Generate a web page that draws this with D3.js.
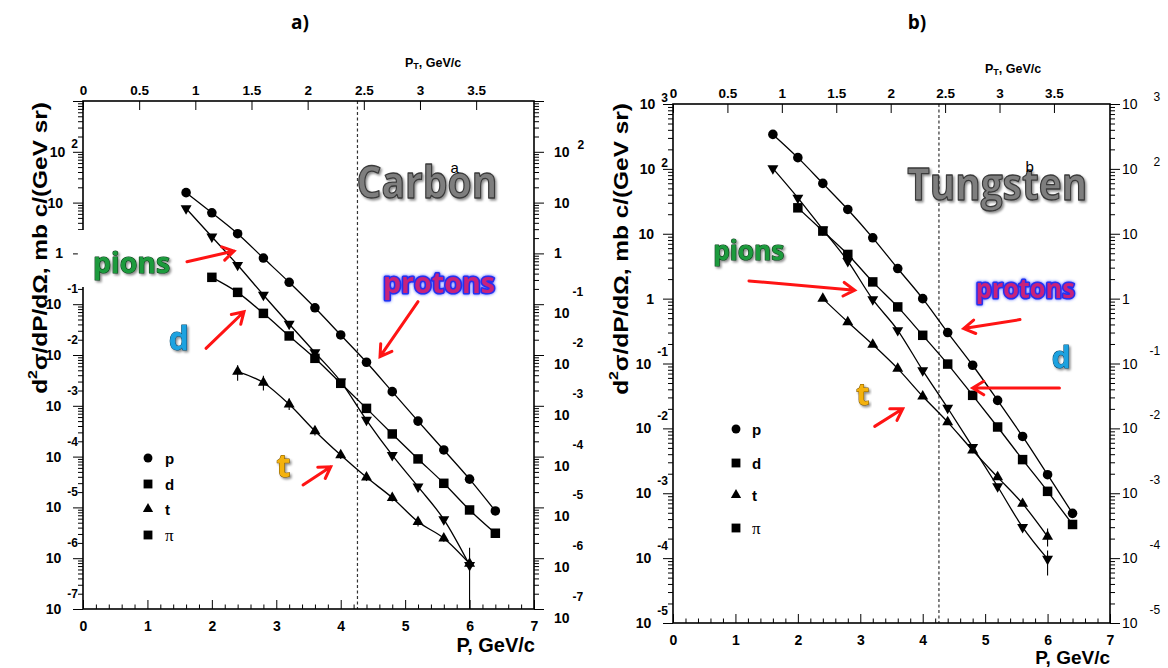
<!DOCTYPE html>
<html>
<head>
<meta charset="utf-8">
<script src="https://cdn.jsdelivr.net/npm/d3@7"></script>
<style>
  html, body { margin: 0; padding: 0; background: #fff; }
  svg { display: block; }
</style>
</head>
<body>
<svg id="chart" width="1168" height="668"></svg>
<script>
// ---------------------------------------------------------------
// Invariant cross sections d2sigma/dP/dOmega [mb c/(GeV sr)]
// measured at 35 degrees, for carbon and tungsten targets.
// ---------------------------------------------------------------
const momentum  = [1.6, 2.0, 2.4, 2.8, 3.2, 3.6, 4.0, 4.4, 4.8, 5.2, 5.6, 6.0, 6.4];
const pProton   = momentum;               // 1.6 ... 6.4 GeV/c
const pDeuteron = momentum.slice(1);      // 2.0 ... 6.4 GeV/c
const pPion     = momentum.slice(0, 12);  // 1.6 ... 6.0 GeV/c
const pTriton   = momentum.slice(2, 12);  // 2.4 ... 6.0 GeV/c

// Carbon target
const carbonProtons   = [15.7, 6.3, 2.44, 0.81, 0.27, 0.085, 0.0248, 0.0072, 0.0019, 5.0e-4, 1.35e-4, 3.6e-5, 8.5e-6];
const carbonDeuterons = [0.338, 0.171, 0.066, 0.0237, 0.0086, 0.00277, 8.9e-4, 2.79e-4, 9.0e-5, 2.98e-5, 8.9e-6, 3.1e-6];
const carbonPions     = [7.7, 2.13, 0.59, 0.152, 0.0407, 0.0112, 0.0030, 5.25e-4, 1.07e-4, 2.56e-5, 5.8e-6, 7.3e-7];
const carbonTritons   = [4.7e-3, 2.85e-3, 1.07e-3, 3.19e-4, 1.07e-4, 3.9e-5, 1.55e-5, 5.2e-6, 2.47e-6, 7.8e-7];
// [P, lower, upper]
const carbonErrors = [
  [2.4, 3.1e-3, 6.3e-3], [2.8, 2.0e-3, 3.9e-3], [3.2, 8.3e-4, 1.4e-3],
  [3.6, 2.6e-4, 3.9e-4], [4.0, 9.0e-5, 1.25e-4], [4.4, 3.3e-5, 4.5e-5],
  [4.8, 1.3e-5, 1.8e-5], [5.2, 4.2e-6, 6.5e-6], [5.6, 2.1e-6, 2.9e-6],
  [6.0, 1.0e-8, 1.6e-6]
];

// Tungsten target
const tungstenProtons   = [340, 149, 59.7, 23.7, 8.65, 2.91, 1.0, 0.30, 0.094, 0.027, 7.5e-3, 1.93e-3, 4.9e-4];
const tungstenDeuterons = [25.1, 11.0, 4.8, 1.81, 0.745, 0.272, 0.098, 0.0323, 0.0105, 3.3e-3, 1.07e-3, 3.3e-4];
const tungstenPions     = [102, 35.8, 11.6, 3.78, 0.97, 0.325, 0.0785, 0.0206, 5.15e-3, 1.27e-3, 3.0e-4, 9.7e-5];
const tungstenTritons   = [1.0, 0.436, 0.196, 0.0834, 0.0312, 0.0125, 4.57e-3, 1.77e-3, 6.9e-4, 2.15e-4];
const tungstenErrors = [
  [6.0, 1.51e-4, 2.86e-4], [6.0, 5.4e-5, 1.31e-4]
];

// Axes
const pDomain   = [0, 7];
const pTicks    = [0, 1, 2, 3, 4, 5, 6, 7];
const ptTicks   = [0, 0.5, 1, 1.5, 2, 2.5, 3, 3.5];
const angleDeg  = 35;      // P_T = P sin(theta)
const cutP      = 4.26;    // dashed line
const legendLabels = ["p", "d", "t", "\u03c0"];

const FONT  = "'Liberation Sans', Arial, Helvetica, sans-serif";
const DECOR = "'Open Sans', 'Noto Sans', sans-serif";

const svg  = d3.select("#chart");
const defs = svg.append("defs");

const shadow = defs.append("filter").attr("id", "shadow")
  .attr("x", "-20%").attr("y", "-30%").attr("width", "140%").attr("height", "160%");
shadow.append("feDropShadow").attr("dx", 1.6).attr("dy", 1.8)
  .attr("stdDeviation", 1.3).attr("flood-color", "#000").attr("flood-opacity", 0.45);

const glow = defs.append("filter").attr("id", "glow")
  .attr("x", "-20%").attr("y", "-30%").attr("width", "140%").attr("height", "160%");
glow.append("feDropShadow").attr("dx", 0).attr("dy", 0)
  .attr("stdDeviation", 1.6).attr("flood-color", "#2a3cff").attr("flood-opacity", 0.9);

const symbols = {
  circle:   d3.symbol(d3.symbolCircle, 72)(),
  square:   d3.symbol(d3.symbolSquare, 90)(),
  triangle: d3.symbol(d3.symbolTriangle, 52)()
};

function decadeLabel(g, e, ax, ty, spec) {
  const t = g.append("text")
    .attr("font-family", FONT)
    .attr("font-weight", spec.weight)
    .attr("font-size", 14)
    .attr("fill", "#000")
    .attr("dominant-baseline", "central");
  if (e === 0 || e === 1) {
    const label = e === 0 ? "1" : "10";
    if (spec.side === "left") {
      t.attr("x", ax - spec.plainGap).attr("y", ty).attr("text-anchor", "end").text(label);
    } else {
      t.attr("x", ax + spec.plainGap).attr("y", ty).attr("text-anchor", "start").text(label);
    }
    return;
  }
  const neg = e < 0;
  const baseDy = neg ? spec.negBaseDy : 0;
  if (spec.side === "left") {
    t.attr("x", ax - 5).attr("y", ty + baseDy).attr("text-anchor", "end");
  } else {
    t.attr("x", ax + spec.plainGap).attr("y", ty + baseDy).attr("text-anchor", "start");
  }
  t.append("tspan").text("10");
  t.append("tspan")
    .attr("font-size", 12)
    .attr("dx", neg ? spec.negDx : spec.posDx)
    .attr("dy", neg ? spec.negDy : spec.posDy)
    .text(String(e));
}

function arrow(g, x1, y1, x2, y2) {
  const a = Math.atan2(y2 - y1, x2 - x1);
  const L = 13, s = 0.55;
  const ax = x2 - L * Math.cos(a - s), ay = y2 - L * Math.sin(a - s);
  const bx = x2 - L * Math.cos(a + s), by = y2 - L * Math.sin(a + s);
  g.append("path")
    .attr("d", `M${x1},${y1}L${x2},${y2}M${ax},${ay}L${x2},${y2}L${bx},${by}`)
    .attr("fill", "none").attr("stroke", "#ff1414").attr("stroke-width", 3)
    .attr("stroke-linecap", "round").attr("stroke-linejoin", "miter");
}

function fancyText(g, txt, px, py, size, width, fill, stroke, sw, filter) {
  const t = g.append("text")
    .attr("x", px).attr("y", py)
    .attr("text-anchor", "middle").attr("dominant-baseline", "central")
    .attr("font-family", DECOR).attr("font-weight", 700)
    .attr("font-size", size)
    .attr("fill", fill).attr("stroke", stroke).attr("stroke-width", sw)
    .attr("paint-order", "stroke")
    .attr("stroke-linejoin", "round")
    .attr("filter", `url(#${filter})`)
    .text(txt);
  if (width) t.attr("textLength", width).attr("lengthAdjust", "spacingAndGlyphs");
  return t;
}

function drawPanel(cfg) {
  const g = svg.append("g");
  const { left, right, top, bottom } = cfg;
  const x  = d3.scaleLinear().domain(pDomain).range([left, right]);
  const xt = d3.scaleLinear()
    .domain([0, pDomain[1] * Math.sin(angleDeg * Math.PI / 180)])
    .range([left, right]);
  const y  = d3.scaleLog().domain(cfg.yDomain).range([bottom, top]);

  const eLo = Math.round(Math.log10(cfg.yDomain[0]));
  const eHi = Math.round(Math.log10(cfg.yDomain[1]));
  const majors = d3.range(eLo, eHi + 1).map(e => Math.pow(10, e));
  const minors = [];
  for (let e = eLo; e < eHi; e++) for (let k = 2; k <= 9; k++) minors.push(k * Math.pow(10, e));
  const pMinor = d3.range(0, 35).map(i => i * 0.2).filter(v => Math.abs(v - Math.round(v)) > 1e-6);

  const clipId = "clip-" + cfg.id;
  defs.append("clipPath").attr("id", clipId).append("rect")
    .attr("x", left).attr("y", top).attr("width", right - left).attr("height", bottom - top);

  const tidy = sel => {
    sel.select(".domain").remove();
    sel.selectAll(".tick line").attr("stroke", "#000").attr("stroke-width", 1);
    sel.selectAll(".tick text").attr("font-family", FONT).attr("font-weight", "bold").attr("fill", "#000");
  };

  // cut line
  g.append("line")
    .attr("x1", x(cutP)).attr("x2", x(cutP)).attr("y1", top).attr("y2", bottom)
    .attr("stroke", "#333").attr("stroke-width", 1.2).attr("stroke-dasharray", "3,2.5");

  // bottom axis: P
  g.append("g").attr("transform", `translate(0,${bottom})`)
    .call(d3.axisBottom(x).tickValues(pTicks).tickSize(-9).tickSizeOuter(0)
      .tickPadding(cfg.bottomPad).tickFormat(d3.format("d")))
    .call(tidy).selectAll(".tick text").attr("font-size", 14);
  g.append("g").attr("transform", `translate(0,${bottom})`)
    .call(d3.axisBottom(x).tickValues(pMinor).tickSize(-4.5).tickSizeOuter(0).tickFormat(""))
    .call(tidy);

  // top axis: P_T
  g.append("g").attr("transform", `translate(0,${top})`)
    .call(d3.axisTop(xt).tickValues(ptTicks).tickSize(-9).tickSizeOuter(0)
      .tickPadding(cfg.topPad).tickFormat(d => String(d)))
    .call(tidy).selectAll(".tick text").attr("font-size", 13.5);

  // y ticks, both sides
  [["left", d3.axisRight, left], ["right", d3.axisLeft, right]].forEach(([side, mk, ax]) => {
    g.append("g").attr("transform", `translate(${ax},0)`)
      .call(mk(y).tickValues(majors).tickSize(-10).tickSizeOuter(0).tickFormat(""))
      .call(tidy);
    g.append("g").attr("transform", `translate(${ax},0)`)
      .call(mk(y).tickValues(minors).tickSize(-5).tickSizeOuter(0).tickFormat(""))
      .call(tidy);
    const spec = cfg.labels[side];
    majors.forEach(v => {
      const e = Math.round(Math.log10(v));
      if (spec.skip && spec.skip.includes(e)) return;
      decadeLabel(g, e, ax, y(v), spec);
    });
  });

  // frame
  g.append("rect")
    .attr("x", left).attr("y", top).attr("width", right - left).attr("height", bottom - top)
    .attr("fill", "none").attr("stroke", "#000").attr("stroke-width", 1.6);

  // axis titles
  g.append("text")
    .attr("x", cfg.pTitle[0]).attr("y", cfg.pTitle[1])
    .attr("text-anchor", "end").attr("dominant-baseline", "central")
    .attr("font-family", FONT).attr("font-weight", "bold").attr("font-size", cfg.pTitleSize)
    .text("P, GeV/c");

  const pt = g.append("text")
    .attr("x", cfg.ptTitle[0]).attr("y", cfg.ptTitle[1])
    .attr("font-family", FONT).attr("font-weight", "bold").attr("font-size", 12.5)
    .attr("dominant-baseline", "central");
  pt.append("tspan").text("P");
  pt.append("tspan").attr("font-size", 9).attr("dy", 3).text("T");
  pt.append("tspan").attr("dy", -3).text(", GeV/c");

  // rotated y title, stretched along its baseline to the wanted length
  const yt = g.append("text")
    .attr("text-anchor", "middle").attr("dominant-baseline", "central")
    .attr("font-family", FONT).attr("font-weight", "bold").attr("font-size", 20);
  yt.append("tspan").text("d");
  yt.append("tspan").attr("font-size", 13).attr("dy", -7).text("2");
  yt.append("tspan").attr("dy", 7).text("\u03c3/dP/d\u03a9, mb c/(GeV sr)");
  const natural = yt.node().getComputedTextLength() || cfg.yTitleLength;
  const k = cfg.yTitleLength / natural;
  yt.attr("transform", `translate(${cfg.yTitle[0]},${cfg.yTitle[1]}) rotate(-90) scale(${k},1)`);

  g.append("text")
    .attr("x", cfg.title[0]).attr("y", cfg.title[1])
    .attr("text-anchor", "middle").attr("dominant-baseline", "central")
    .attr("font-family", DECOR).attr("font-weight", 700).attr("font-size", 19)
    .text(cfg.titleText);

  // data
  const data = g.append("g").attr("clip-path", `url(#${clipId})`);
  const line = d3.line().x(d => x(d[0])).y(d => y(d[1])).curve(d3.curveMonotoneX);

  cfg.errors.forEach(([p, lo, hi]) => {
    data.append("line")
      .attr("x1", x(p)).attr("x2", x(p)).attr("y1", y(lo)).attr("y2", y(hi))
      .attr("stroke", "#000").attr("stroke-width", 1.1);
  });

  cfg.series.forEach(s => {
    const pts = s.p.map((p, i) => [p, s.v[i]]);
    data.append("path").datum(pts)
      .attr("d", line)
      .attr("fill", "none").attr("stroke", "#000").attr("stroke-width", 1.3);
    data.selectAll(null).data(pts).join("path")
      .attr("transform", d => `translate(${x(d[0])},${y(d[1])})${s.flip ? " rotate(180)" : ""}`)
      .attr("d", symbols[s.shape])
      .attr("fill", "#000");
  });

  // legend
  const lg = g.append("g");
  legendLabels.forEach((lab, i) => {
    const ly = cfg.legend.y[i];
    lg.append("path").attr("transform", `translate(${cfg.legend.mx},${ly})`)
      .attr("d", d3.symbol(i === 0 ? d3.symbolCircle : i === 2 ? d3.symbolTriangle : d3.symbolSquare,
                           i === 0 ? 62 : i === 2 ? 46 : 78)())
      .attr("fill", "#000");
    lg.append("text").attr("x", cfg.legend.tx).attr("y", ly)
      .attr("dominant-baseline", "central")
      .attr("font-family", i === 3 ? "'Liberation Serif', 'DejaVu Serif', serif" : FONT)
      .attr("font-weight", i === 3 ? "normal" : "bold")
      .attr("font-size", i === 3 ? 17 : 15)
      .text(lab);
  });

  // annotations, placed in (P, cross-section) coordinates
  const A = cfg.notes;
  if (A.mask) {
    g.append("rect")
      .attr("x", x(A.mask[0])).attr("y", y(A.mask[3]))
      .attr("width", x(A.mask[1]) - x(A.mask[0])).attr("height", y(A.mask[2]) - y(A.mask[3]))
      .attr("fill", "#fff");
  }
  fancyText(g, A.target.text, x(A.target.at[0]), y(A.target.at[1]), A.target.size, A.target.width,
            "#7e7e7e", "#3a3a3a", 1.3, "shadow").attr("paint-order", "normal");
  g.append("text").attr("x", x(A.tag.at[0])).attr("y", y(A.tag.at[1]))
    .attr("text-anchor", "middle").attr("dominant-baseline", "central")
    .attr("font-family", FONT).attr("font-size", 15).text(A.tag.text);

  A.words.forEach(w => {
    fancyText(g, w.text, x(w.at[0]), y(w.at[1]), w.size, w.width, w.fill, w.stroke, w.sw, w.filter);
  });
  A.arrows.forEach(a => arrow(g, x(a[0]), y(a[1]), x(a[2]), y(a[3])));
}

const pionStyle     = { fill: "#1f9b3e", stroke: "#0b3d18", sw: 1.2, filter: "shadow" };
const protonStyle   = { fill: "#c8207a", stroke: "#2430f0", sw: 3, filter: "glow" };
const deuteronStyle = { fill: "#1ea2e0", stroke: "#0b4a6e", sw: 1, filter: "shadow" };
const tritonStyle   = { fill: "#f4b20c", stroke: "#7a5200", sw: 1, filter: "shadow" };

drawPanel({
  id: "carbon", titleText: "a)", title: [300, 22],
  left: 83, right: 534, top: 101, bottom: 609,
  yDomain: [1e-7, 1e3],
  bottomPad: 12, topPad: 6,
  pTitle: [535, 645], pTitleSize: 20,
  ptTitle: [405, 63],
  yTitle: [40, 248], yTitleLength: 292,
  labels: {
    left:  { side: "left",  weight: "bold", plainGap: 20, negBaseDy: 0, negDx: 6, negDy: -15, posDx: 6, posDy: -8, skip: [3] },
    right: { side: "right", weight: "bold", plainGap: 20, negBaseDy: 9, negDx: 3, negDy: -21, posDx: 8, posDy: -7, skip: [3] }
  },
  series: [
    { p: pProton,   v: carbonProtons,   shape: "circle" },
    { p: pDeuteron, v: carbonDeuterons, shape: "square" },
    { p: pPion,     v: carbonPions,     shape: "triangle", flip: true },
    { p: pTriton,   v: carbonTritons,   shape: "triangle" }
  ],
  errors: carbonErrors,
  legend: { mx: 148, tx: 165, y: [458, 484, 509, 535] },
  notes: {
    mask: [-0.08, 1.47, 0.218, 2.89],
    target: { text: "Carbon", at: [5.34, 26.6], size: 44, width: 141 },
    tag: { text: "a", at: [5.77, 48] },
    words: [
      Object.assign({ text: "pions",   at: [0.753, 0.678], size: 28, width: 77 }, pionStyle),
      Object.assign({ text: "d",       at: [1.49, 0.0226], size: 32 }, deuteronStyle),
      Object.assign({ text: "protons", at: [5.525, 0.274], size: 28, width: 112 }, protonStyle),
      Object.assign({ text: "t",       at: [3.112, 6.84e-5], size: 32 }, tritonStyle)
    ],
    arrows: [
      [1.614, 0.687, 2.344, 1.114],
      [1.909, 0.01355, 2.499, 0.0711],
      [5.20, 0.112, 4.61, 0.00927],
      [3.415, 2.76e-5, 3.845, 6.32e-5]
    ]
  }
});

drawPanel({
  id: "tungsten", titleText: "b)", title: [917, 22],
  left: 673, right: 1110, top: 104, bottom: 623,
  yDomain: [1e-5, 1e3],
  bottomPad: 12, topPad: 6,
  pTitle: [1110, 657], pTitleSize: 19,
  ptTitle: [985, 69],
  yTitle: [621, 249], yTitleLength: 292,
  labels: {
    left:  { side: "left",  weight: "bold",   plainGap: 19, negBaseDy: 0, negDx: 6, negDy: -12, posDx: 6, posDy: -6 },
    right: { side: "right", weight: "normal", plainGap: 12, negBaseDy: 0, negDx: 12, negDy: -13, posDx: 16, posDy: -7 }
  },
  series: [
    { p: pProton,   v: tungstenProtons,   shape: "circle" },
    { p: pDeuteron, v: tungstenDeuterons, shape: "square" },
    { p: pPion,     v: tungstenPions,     shape: "triangle", flip: true },
    { p: pTriton,   v: tungstenTritons,   shape: "triangle" }
  ],
  errors: tungstenErrors,
  legend: { mx: 736, tx: 752, y: [429, 463, 495, 528] },
  notes: {
    target: { text: "Tungsten", at: [5.193, 60.4], size: 44, width: 180 },
    tag: { text: "b", at: [5.714, 107] },
    words: [
      Object.assign({ text: "pions",   at: [1.213, 5.58], size: 26, width: 71 }, pionStyle),
      Object.assign({ text: "protons", at: [5.642, 1.445], size: 26, width: 99 }, protonStyle),
      Object.assign({ text: "d",       at: [6.218, 0.129], size: 30 }, deuteronStyle),
      Object.assign({ text: "t",       at: [3.039, 0.0347], size: 30 }, tritonStyle)
    ],
    arrows: [
      [1.217, 1.875, 2.91, 1.349],
      [5.558, 0.475, 4.657, 0.346],
      [6.19, 0.0419, 4.80, 0.0419],
      [3.231, 0.01074, 3.68, 0.0201]
    ]
  }
});
</script>
</body>
</html>
